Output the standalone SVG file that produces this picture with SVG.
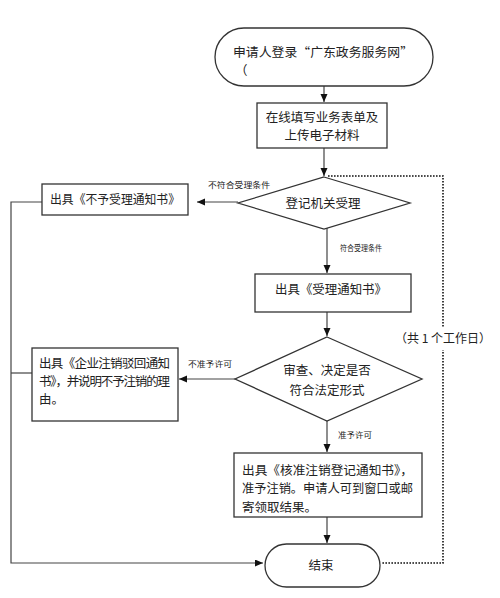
<svg xmlns="http://www.w3.org/2000/svg" width="500" height="598" viewBox="0 0 500 598">
<defs>
<style>
.shape{fill:#fff;stroke:#333;stroke-width:1.3}
.ln{fill:none;stroke:#444;stroke-width:1.2}
.dot{fill:none;stroke:#111;stroke-width:1.6;stroke-dasharray:1.6 1.4}
text{font-family:"Noto Sans CJK SC","Noto Sans",sans-serif;fill:#222}
.t{font-size:12.5px;text-anchor:middle}
.tl{font-size:12.5px}
.lb{font-size:8px;text-anchor:middle}
</style>
<marker id="arr" markerUnits="userSpaceOnUse" markerWidth="9" markerHeight="8" refX="8" refY="3.5" orient="auto">
<path d="M0,0 L8,3.5 L0,7 z" fill="#111"/>
</marker>
</defs>
<rect width="500" height="598" fill="#fff"/>
<g id="connectors">
<path class="dot" d="M328,176 H443 V563 H381"/>
<rect x="400" y="328" width="86" height="22" fill="#fff"/>
<path class="ln" d="M324,86 V102" marker-end="url(#arr)"/>
<path class="ln" d="M324,148 V176" marker-end="url(#arr)"/>
<path class="ln" d="M238,202 H197" marker-end="url(#arr)"/>
<path class="ln" d="M42,202 H11 V563 H263" marker-end="url(#arr)"/>
<path class="ln" d="M32,373 H11"/>
<path class="ln" d="M327,228 V273" marker-end="url(#arr)"/>
<path class="ln" d="M327,312 V336" marker-end="url(#arr)"/>
<path class="ln" d="M235,379 H179" marker-end="url(#arr)"/>
<path class="ln" d="M327,420 V452" marker-end="url(#arr)"/>
<path class="ln" d="M327,517 V543" marker-end="url(#arr)"/>
<text class="lb" x="239" y="188" textLength="62" lengthAdjust="spacingAndGlyphs">不符合受理条件</text>
<text class="lb" x="361" y="251" textLength="42" lengthAdjust="spacingAndGlyphs">符合受理条件</text>
<text class="lb" x="210" y="367" textLength="44" lengthAdjust="spacingAndGlyphs">不准予许可</text>
<text class="lb" x="355" y="438" textLength="34" lengthAdjust="spacingAndGlyphs">准予许可</text>
<text x="443" y="343" font-size="12" text-anchor="middle">（共 1 个工作日）</text>
</g>
<g id="start">
<rect class="shape" x="215" y="28" width="218" height="58" rx="29" ry="29"/>
<text class="tl" x="233" y="57" textLength="180" lengthAdjust="spacingAndGlyphs">申请人登录“广东政务服务网”</text>
<text class="tl" x="235" y="75">（</text>
</g>
<g id="fill-form">
<rect class="shape" x="257" y="103" width="130" height="45"/>
<text class="t" x="322" y="122">在线填写业务表单及</text>
<text class="t" x="322" y="140">上传电子材料</text>
</g>
<g id="accept-decision">
<polygon class="shape" points="324,177 410,203 324,229 238,203"/>
<text class="t" x="323" y="208" font-size="13">登记机关受理</text>
</g>
<g id="reject-notice">
<rect class="shape" x="42" y="184" width="146" height="31"/>
<text class="t" x="115" y="204" textLength="130" lengthAdjust="spacingAndGlyphs">出具《不予受理通知书》</text>
</g>
<g id="accept-notice">
<rect class="shape" x="255" y="274" width="156" height="38"/>
<text class="t" x="331" y="294" textLength="112" lengthAdjust="spacingAndGlyphs">出具《受理通知书》</text>
</g>
<g id="review-decision">
<polygon class="shape" points="327,337 422,379 327,421 235,379"/>
<text class="t" x="327" y="375">审查、决定是否</text>
<text class="t" x="327" y="395">符合法定形式</text>
</g>
<g id="reject-cancel">
<rect class="shape" x="32" y="348" width="146" height="73"/>
<text class="tl" x="39" y="368" textLength="131" lengthAdjust="spacing">出具《企业注销驳回通知</text>
<text class="tl" x="39" y="386" textLength="131" lengthAdjust="spacing">书》，并说明不予注销的理</text>
<text class="tl" x="39" y="404">由。</text>
</g>
<g id="approve-cancel">
<rect class="shape" x="234" y="453" width="188" height="64"/>
<text class="tl" x="242" y="475" textLength="171" lengthAdjust="spacingAndGlyphs">出具《核准注销登记通知书》，</text>
<text class="tl" x="242" y="493" textLength="171" lengthAdjust="spacingAndGlyphs">准予注销。申请人可到窗口或邮</text>
<text class="tl" x="242" y="512">寄领取结果。</text>
</g>
<g id="end">
<rect class="shape" x="265" y="544" width="115" height="43" rx="21.5" ry="21.5"/>
<text class="t" x="321" y="570" font-size="13">结束</text>
</g>
</svg>
